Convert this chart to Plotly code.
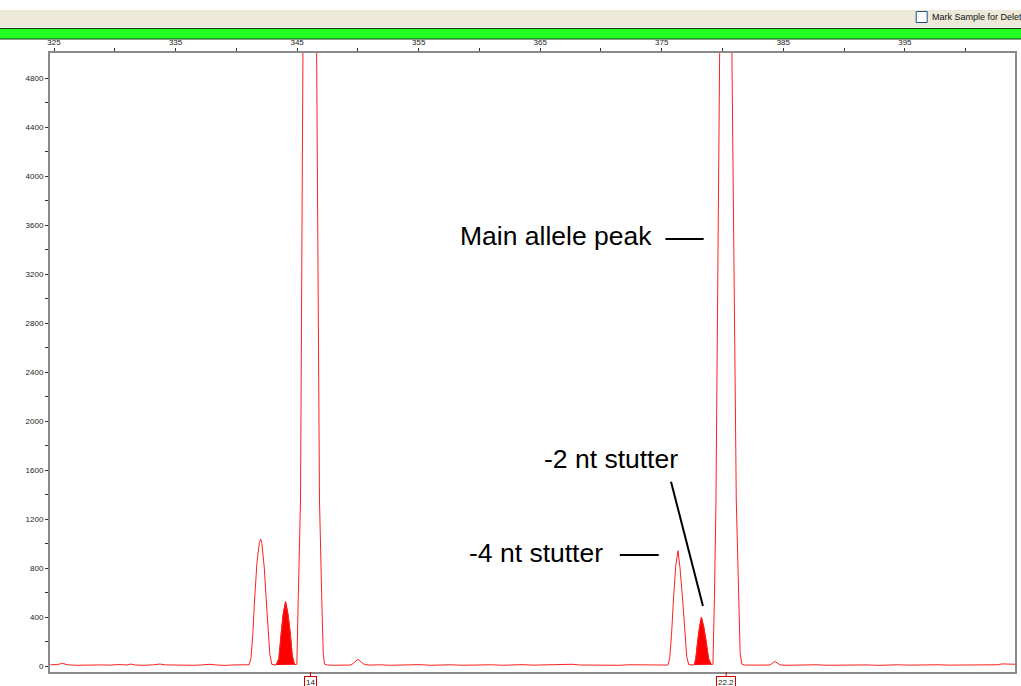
import plotly.graph_objects as go

# ---- data ----
size_bp = [324.7, 325.3, 325.7, 326.1, 326.8, 327.5, 328.3, 329.0, 329.6, 330.3, 331.0, 331.3, 331.7,
           332.4, 333.2, 333.7, 334.2, 335.0, 335.8, 336.5, 337.2, 337.8, 338.4, 339.1, 339.8, 340.5,
           341.05, 341.2, 341.35, 341.5, 341.7, 341.9, 342.0, 342.1, 342.3, 342.46, 342.6, 342.75, 342.92, 343.1,
           343.28, 343.5, 343.69, 343.85, 344.05, 344.25, 344.43, 344.6, 344.79, 344.9,
           344.98, 345.09, 345.28, 345.48, 345.7, 346.03, 346.35, 346.59, 346.84, 347.03, 347.15, 347.25, 347.5,
           348.0, 348.7, 349.4, 349.6, 350.0, 350.3, 350.55,
           351.0, 351.8, 352.6, 353.4, 354.3, 355.1, 356.0, 356.8, 357.7, 358.5, 359.3, 360.2, 361.0, 361.9,
           362.7, 363.5, 364.4, 365.2, 366.0, 366.9, 367.6, 368.3, 369.1, 369.9, 370.7, 371.5, 372.3, 373.1,
           373.9, 374.7, 375.2,
           375.5, 375.65, 375.8, 375.96, 376.15, 376.34, 376.5, 376.72, 376.9, 377.05, 377.22, 377.45,
           377.68, 377.8, 377.96, 378.1, 378.26, 378.45, 378.64, 378.85, 379.08,
           379.21, 379.33, 379.46, 379.76, 380.0, 380.27, 380.55, 380.77, 381.13, 381.32, 381.45, 381.59, 381.8,
           382.3, 383.0, 383.6, 383.9, 384.3, 384.75,
           385.3, 386.1, 386.9, 387.8, 388.6, 389.4, 390.3, 391.1, 391.9, 392.8, 393.6, 394.4, 395.3, 396.1,
           396.9, 397.8, 398.6, 399.4, 400.2, 401.1, 401.9, 402.6, 403.0, 403.5, 404.1]
rfu = [10, 12, 22, 10, 6, 8, 5, 9, 7, 12, 8, 16, 8,
       6, 10, 16, 9, 7, 10, 6, 9, 14, 8, 5, 9, 7,
       10, 60, 250, 539, 850, 1010, 1037, 1000, 800, 539, 300, 100, 12, 8,
       8, 60, 270, 420, 525, 420, 270, 80, 10, 10,
       15, 540, 1356, 5000, 9000, 12000, 9000, 5000, 1356, 540, 100, 15, 8,
       6, 9, 8, 20, 55, 30, 12,
       7, 10, 6, 9, 7, 11, 6, 8, 10, 6, 9, 7, 10, 6,
       8, 11, 7, 9, 6, 10, 14, 8, 7, 12, 8, 6, 10, 7,
       9, 8, 7,
       8, 60, 250, 539, 820, 942, 800, 539, 250, 80, 10, 8,
       8, 60, 212, 320, 398, 320, 212, 60, 10,
       15, 540, 1356, 5000, 9000, 12000, 9000, 5000, 1356, 540, 100, 15, 8,
       7, 10, 8, 8, 38, 8,
       6, 9, 7, 10, 6, 8, 10, 7, 9, 5, 8, 10, 7, 9,
       6, 10, 7, 8, 5, 9, 7, 10, 17, 18, 14]

# shaded (stutter) peak windows, in bp
stutter_windows = [(343.28, 344.79), (377.68, 379.08)]

# allele call labels
allele_labels = ["14", "22.2"]
allele_sizes = [346.1, 380.3]

# axis ticks
x_tickvals = [325, 330, 335, 340, 345, 350, 355, 360, 365, 370, 375, 380, 385, 390, 395, 400]
x_ticktext = ["325", "", "335", "", "345", "", "355", "", "365", "", "375", "", "385", "", "395", ""]
y_tickvals = list(range(0, 5000, 200))
y_ticktext = [str(v) if v % 400 == 0 else "" for v in y_tickvals]

# ---- figure geometry (pixels) ----
W, H = 1021, 686
L, R, T, B = 50, 1017, 53, 672
pw, ph = R - L, B - T


def px_x(px):
    return (px - L) / pw


def px_y(py):
    return (B - py) / ph


fig = go.Figure()

for (a, b) in stutter_windows:
    xs = [x for x, y in zip(size_bp, rfu) if a <= x <= b]
    ys = [y for x, y in zip(size_bp, rfu) if a <= x <= b]
    fig.add_trace(go.Scatter(x=xs, y=ys, mode="lines", fill="toself",
                             fillcolor="#ff0000", line=dict(color="#ff0000", width=1),
                             hoverinfo="skip", showlegend=False))

fig.add_trace(go.Scatter(x=size_bp, y=rfu, mode="lines",
                         line=dict(color="#ff2020", width=1), showlegend=False))

axis_col = "#8a8a8a"
fig.update_layout(
    width=W, height=H,
    margin=dict(l=L, r=W - R, t=T, b=H - B, pad=0),
    paper_bgcolor="white", plot_bgcolor="white",
    font=dict(family="Liberation Sans, Arial, sans-serif", color="#333333"),
    xaxis=dict(range=[324.67, 404.06], side="top", tickmode="array",
               tickvals=x_tickvals, ticktext=x_ticktext,
               ticks="outside", ticklen=3, tickcolor="#333333", tickwidth=1,
               tickfont=dict(size=8, color="#222222"),
               showline=True, linecolor=axis_col, linewidth=2, mirror=True,
               showgrid=False, zeroline=False, fixedrange=True),
    yaxis=dict(range=[-49, 5007], tickmode="array",
               tickvals=y_tickvals, ticktext=y_ticktext,
               ticks="outside", ticklen=3, tickcolor="#333333", tickwidth=1,
               tickfont=dict(size=8, color="#222222"),
               showline=True, linecolor=axis_col, linewidth=2, mirror=True,
               showgrid=False, zeroline=False, fixedrange=True),
)

shapes = []
# window chrome: beige toolbar and green status bar
shapes.append(dict(type="rect", xref="paper", yref="paper",
                   x0=px_x(-5), x1=px_x(W + 5), y0=px_y(27.5), y1=px_y(10),
                   fillcolor="#ECE9D8", line=dict(width=0), layer="below"))
shapes.append(dict(type="rect", xref="paper", yref="paper",
                   x0=px_x(-5), x1=px_x(W + 5), y0=px_y(39), y1=px_y(28.5),
                   fillcolor="#22FF22", line=dict(color="#1a3a1a", width=1), layer="below"))
# checkbox
shapes.append(dict(type="rect", xref="paper", yref="paper",
                   x0=px_x(918), x1=px_x(929), y0=px_y(22.5), y1=px_y(11.5),
                   fillcolor="white", line=dict(color="#1c5180", width=1)))
# annotation leader lines
shapes.append(dict(type="line", xref="paper", yref="paper",
                   x0=px_x(666.7), x1=px_x(705), y0=px_y(239), y1=px_y(239),
                   line=dict(color="black", width=2)))
shapes.append(dict(type="line", xref="paper", yref="paper",
                   x0=px_x(621), x1=px_x(660), y0=px_y(555), y1=px_y(555),
                   line=dict(color="black", width=2)))
shapes.append(dict(type="line", xref="paper", yref="paper",
                   x0=px_x(672.3), x1=px_x(704.3), y0=px_y(481.7), y1=px_y(606),
                   line=dict(color="black", width=2)))
# allele call ticks below axis
for s in allele_sizes:
    shapes.append(dict(type="line", xref="x", yref="paper", x0=s, x1=s,
                       y0=px_y(672), y1=px_y(676), line=dict(color="#cc0000", width=1)))
fig.update_layout(shapes=shapes)

ann = []
ann.append(dict(text="Mark Sample for Deletion", xref="paper", yref="paper",
                x=px_x(931.5), y=px_y(17), xanchor="left", yanchor="middle",
                showarrow=False, font=dict(size=9, color="#111111",
                                           family="Liberation Sans, Arial, sans-serif")))
big = dict(family="Liberation Sans, Arial, sans-serif", size=26.5, color="black")
ann.append(dict(text="Main allele peak", xref="paper", yref="paper",
                x=px_x(557.5), y=px_y(236), xanchor="center", yanchor="middle",
                showarrow=False, font=big))
ann.append(dict(text="-2 nt stutter", xref="paper", yref="paper",
                x=px_x(612), y=px_y(459), xanchor="center", yanchor="middle",
                showarrow=False, font=big))
ann.append(dict(text="-4 nt stutter", xref="paper", yref="paper",
                x=px_x(536.7), y=px_y(553), xanchor="center", yanchor="middle",
                showarrow=False, font=big))
for lab, s in zip(allele_labels, allele_sizes):
    ann.append(dict(text=lab, xref="x", yref="paper", x=s, y=px_y(676),
                    xanchor="center", yanchor="top", showarrow=False,
                    font=dict(size=8, color="#222222"),
                    bordercolor="#cc0000", borderwidth=1, borderpad=1, bgcolor="white"))
fig.update_layout(annotations=ann)

fig.write_html("out.html",
               config={"displayModeBar": False, "staticPlot": True},
               post_script="document.body.style.margin='0';document.body.style.padding='0';"
                           "document.body.style.overflow='hidden';")
